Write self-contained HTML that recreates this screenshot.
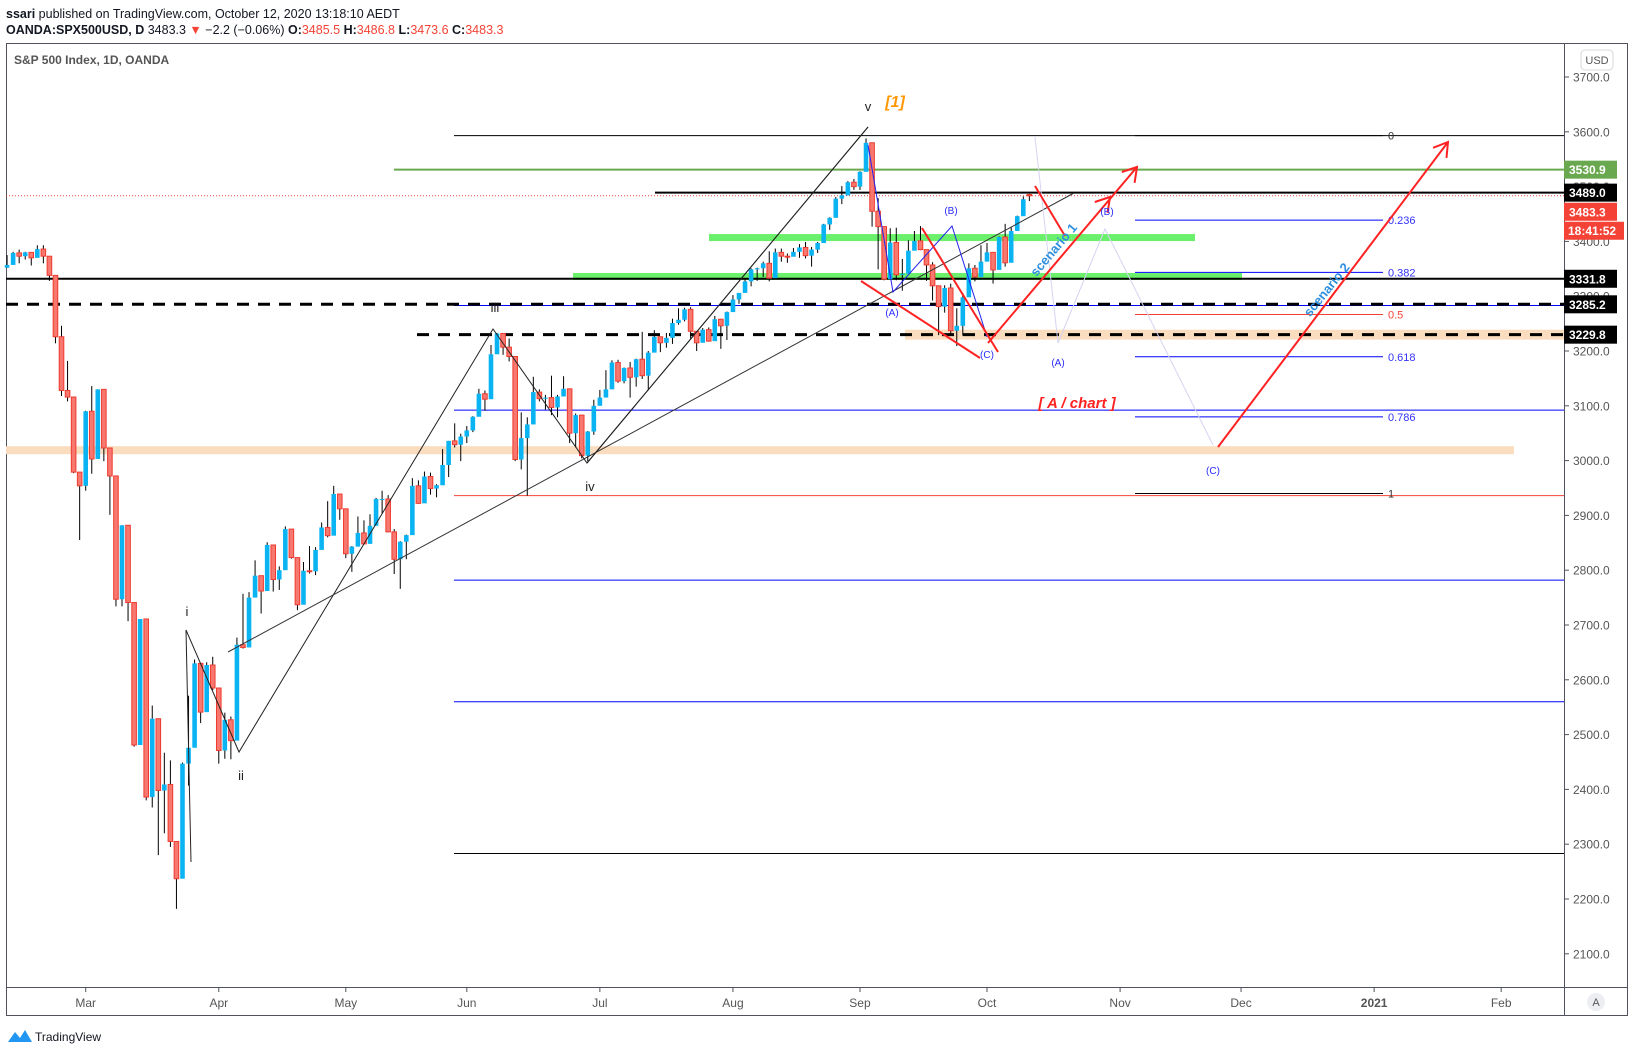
<!DOCTYPE html>
<html><head><meta charset="utf-8">
<style>
html,body{margin:0;padding:0;background:#fff;width:1635px;height:1053px;overflow:hidden}
svg{display:block}
text{font-family:"Liberation Sans",sans-serif}
</style></head>
<body>
<svg id="chart" width="1635" height="1053" viewBox="0 0 1635 1053" xmlns="http://www.w3.org/2000/svg">
<text x="6" y="18" font-size="12.5" fill="#131722"><tspan font-weight="bold">ssari</tspan> published on TradingView.com, October 12, 2020 13:18:10 AEDT</text>
<text x="6" y="34" font-size="12.5" fill="#131722"><tspan font-weight="bold">OANDA:SPX500USD, D</tspan> 3483.3 <tspan fill="#f44336">▼</tspan> −2.2 (−0.06%) <tspan font-weight="bold">O:</tspan><tspan fill="#f44336">3485.5</tspan> <tspan font-weight="bold">H:</tspan><tspan fill="#f44336">3486.8</tspan> <tspan font-weight="bold">L:</tspan><tspan fill="#f44336">3473.6</tspan> <tspan font-weight="bold">C:</tspan><tspan fill="#f44336">3483.3</tspan></text>
<rect x="6.5" y="43.5" width="1621" height="972" fill="none" stroke="#50535e" stroke-width="1"/>
<line x1="1564.5" y1="43" x2="1564.5" y2="1016" stroke="#50535e"/>
<line x1="6" y1="987.5" x2="1628" y2="987.5" stroke="#50535e"/>
<text x="14" y="64" font-size="12" font-weight="bold" fill="#555">S&amp;P 500 Index, 1D, OANDA</text>
<g id="levels"></g>
<g id="candles"></g>
<g id="annot"></g>
<g id="axis"></g>
</svg>
<script>
const dates=["Feb11","Feb12","Feb13","Feb14","Feb18","Feb19","Feb20","Feb21","Feb24","Feb25","Feb26","Feb27","Feb28","Mar2","Mar3","Mar4","Mar5","Mar6","Mar9","Mar10","Mar11","Mar12","Mar13","Mar16","Mar17","Mar18","Mar19","Mar20","Mar23","Mar24","Mar25","Mar26","Mar27","Mar30","Mar31","Apr1","Apr2","Apr3","Apr6","Apr7","Apr8","Apr9","Apr13","Apr14","Apr15","Apr16","Apr17","Apr20","Apr21","Apr22","Apr23","Apr24","Apr27","Apr28","Apr29","Apr30","May1","May4","May5","May6","May7","May8","May11","May12","May13","May14","May15","May18","May19","May20","May21","May22","May26","May27","May28","May29","Jun1","Jun2","Jun3","Jun4","Jun5","Jun8","Jun9","Jun10","Jun11","Jun12","Jun15","Jun16","Jun17","Jun18","Jun19","Jun22","Jun23","Jun24","Jun25","Jun26","Jun29","Jun30","Jul1","Jul2","Jul6","Jul7","Jul8","Jul9","Jul10","Jul13","Jul14","Jul15","Jul16","Jul17","Jul20","Jul21","Jul22","Jul23","Jul24","Jul27","Jul28","Jul29","Jul30","Jul31","Aug3","Aug4","Aug5","Aug6","Aug7","Aug10","Aug11","Aug12","Aug13","Aug14","Aug17","Aug18","Aug19","Aug20","Aug21","Aug24","Aug25","Aug26","Aug27","Aug28","Aug31","Sep1","Sep2","Sep3","Sep4","Sep8","Sep9","Sep10","Sep11","Sep14","Sep15","Sep16","Sep17","Sep18","Sep21","Sep22","Sep23","Sep24","Sep25","Sep28","Sep29","Sep30","Oct1","Oct2","Oct5","Oct6","Oct7","Oct8","Oct9","Oct12"];
const closes=[3357,3379,3373,3380,3370,3386,3373,3338,3226,3128,3116,2979,2954,3090,3003,3130,3023,2972,2747,2882,2741,2481,2711,2386,2529,2398,2409,2305,2237,2447,2476,2630,2541,2627,2585,2471,2527,2489,2664,2659,2750,2790,2762,2846,2783,2800,2875,2823,2737,2799,2798,2837,2878,2863,2939,2912,2830,2843,2868,2848,2881,2930,2930,2870,2820,2852,2864,2954,2922,2971,2949,2955,2992,3036,3029,3044,3055,3080,3122,3112,3194,3232,3207,3190,3002,3041,3066,3125,3113,3115,3097,3117,3131,3050,3083,3009,3053,3100,3115,3130,3179,3145,3169,3152,3185,3155,3197,3226,3215,3224,3251,3257,3276,3236,3215,3239,3218,3258,3246,3271,3294,3306,3327,3349,3351,3360,3333,3380,3373,3372,3381,3389,3374,3385,3397,3431,3443,3478,3484,3508,3500,3527,3580,3455,3427,3331,3398,3339,3341,3383,3401,3385,3357,3319,3281,3315,3237,3246,3298,3351,3335,3363,3380,3348,3408,3361,3419,3446,3477,3483.3];
const highs=[3375,3381,3385,3381,3375,3393,3393,3360,3259,3246,3182,3097,2959,3091,3136,3130,3083,2985,2863,2882,2825,2660,2711,2562,2553,2453,2467,2453,2300,2449,2571,2637,2616,2632,2642,2522,2540,2533,2677,2757,2760,2818,2782,2851,2802,2807,2880,2868,2785,2815,2844,2842,2887,2926,2954,2930,2870,2844,2898,2891,2902,2932,2945,2937,2875,2853,2865,2968,2964,2980,2978,2957,3021,3036,3068,3049,3063,3081,3131,3128,3211,3233,3222,3223,3123,3088,3079,3153,3130,3120,3155,3120,3154,3128,3086,3073,3054,3111,3129,3165,3183,3184,3170,3180,3186,3235,3200,3238,3220,3233,3259,3278,3279,3280,3227,3242,3243,3264,3250,3272,3302,3306,3331,3351,3352,3363,3382,3387,3387,3378,3388,3395,3399,3390,3399,3432,3444,3481,3501,3510,3514,3528,3588,3564,3479,3379,3424,3425,3368,3402,3419,3428,3375,3362,3286,3320,3323,3278,3306,3360,3357,3393,3397,3369,3409,3432,3426,3447,3482,3486.8];
const lows=[3352,3360,3360,3367,3356,3378,3360,3328,3214,3118,3108,2977,2855,2945,2976,3034,2999,2901,2734,2734,2707,2478,2492,2380,2367,2280,2320,2295,2182,2345,2407,2500,2521,2543,2581,2447,2456,2455,2558,2657,2665,2762,2721,2805,2761,2764,2842,2821,2727,2775,2794,2791,2853,2860,2891,2892,2822,2797,2852,2847,2876,2913,2903,2869,2793,2766,2820,2914,2921,2953,2938,2933,2988,2970,3024,2999,3032,3052,3098,3091,3163,3196,3193,3181,2999,2984,2936,3077,3108,3093,3083,3079,3127,3032,3024,3004,2999,3047,3101,3124,3155,3142,3141,3115,3135,3149,3128,3201,3198,3206,3213,3248,3254,3222,3200,3216,3217,3221,3204,3220,3284,3286,3318,3318,3328,3335,3327,3355,3363,3361,3378,3370,3369,3354,3379,3413,3421,3444,3468,3484,3494,3494,3535,3427,3349,3329,3365,3329,3310,3363,3389,3384,3328,3292,3229,3270,3232,3209,3228,3333,3327,3340,3364,3323,3367,3354,3385,3428,3450,3473.6];
const firstOpen=3352;
const lastOpen=3485.5;
const priceTicks=[3700,3600,3500,3400,3300,3200,3100,3000,2900,2800,2700,2600,2500,2400,2300,2200,2100];
const monthLabels=["Mar","Apr","May","Jun","Jul","Aug","Sep","Oct","Nov","Dec","2021","Feb"];
const monthBars=[13,35,56,76,98,120,141,162,184,204,226,247];
const fibRatios=[0,0.236,0.382,0.5,0.618,0.786,1];
const fibHigh=3593, fibLow=2940;
const markedPrices=[3530.9,3489.0,3483.3,3331.8,3285.2,3229.8];

const NS="http://www.w3.org/2000/svg";
const X0=7.07, BW=6.049;
const xb=i=>X0+i*BW;
const y=p=>77+(3700-p)*0.548;
function el(parent,tag,attrs,txt){const e=document.createElementNS(NS,tag);for(const k in attrs)e.setAttribute(k,attrs[k]);if(txt!==undefined)e.textContent=txt;document.getElementById(parent).appendChild(e);return e;}

// horizontal levels
const L='levels';
let e;
e=el(L,'rect',{x:6,y:y(3019)-4,width:1508,height:8,fill:'#fadcbf'});


e=el(L,'rect',{x:905,y:y(3229.8)-5,width:659,height:10,fill:'#fadcbf'});


e=el(L,'rect',{x:709,y:y(3407)-3.5,width:486,height:7,fill:'#6af06a'});


e=el(L,'rect',{x:573,y:y(3336)-3.5,width:669,height:7,fill:'#6af06a'});


function hline(x1,p,stroke,w,dash,name){const a={x1:x1,x2:1564,y1:y(p),y2:y(p),stroke:stroke,'stroke-width':w};if(dash)a['stroke-dasharray']=dash;const h=el(L,'line',a);

}
hline(454,3593,'#000',1,null,'level-3593');
hline(394,3530.9,'#6aa84f',2,null,'level-3530');
hline(655,3489.0,'#000',2,null,'level-3489');
hline(6,3483.3,'#f44336',1,'1,2','last-price-line');
hline(6,3331.8,'#000',2,null,'level-3331');
hline(454,3283,'#0000ff',1,null,'blue-level-3283');
hline(6,3285.2,'#000',3,'12,9','level-3285');
hline(417,3229.8,'#000',3,'12,9','level-3229');
hline(454,3092,'#0000ff',1,null,'blue-level-3092');
hline(454,2936,'#f44336',1,null,'red-level-2936');
hline(454,2782,'#0000ff',1,null,'blue-level-2782');
hline(454,2560,'#0000ff',1,null,'blue-level-2560');
hline(454,2283,'#000',1,null,'level-2283');

// fib
const fibColors=['#000','#0000ff','#0000ff','#f44336','#0000ff','#0000ff','#000'];
fibRatios.forEach((r,i)=>{const p=fibHigh-r*(fibHigh-fibLow);
const f=el(L,'line',{x1:1135,x2:1383,y1:y(p),y2:y(p),stroke:fibColors[i],'stroke-width':1});


const t=el(L,'text',{x:1388,y:y(p)+4,'font-size':11,fill:fibColors[i]==='#000'?'#333':(fibColors[i]==='#0000ff'?'#3333ff':'#f44336')},String(r));

});

// candles
const C='candles';
closes.forEach((c,i)=>{
 const o=i===0?firstOpen:(i===closes.length-1?lastOpen:closes[i-1]);
 const x=xb(i);const up=c>=o;
 const w=el(C,'line',{x1:x,x2:x,y1:y(highs[i]),y2:y(lows[i]),stroke:'#000','stroke-width':1});
 
 
 const top=y(Math.max(o,c)),bot=y(Math.min(o,c));
 const b=el(C,'rect',{x:x-2.3,y:top,width:4.6,height:Math.max(1,bot-top),fill:up?'#0ab4f2':'#f7786f',stroke:up?'#0ab4f2':'#ef3b30','stroke-width':up?0:1});
 
 
});

// annotations
const A='annot';
function poly(pts,stroke,w,name){const p=el(A,'polyline',{points:pts,fill:'none',stroke:stroke,'stroke-width':w});

}
poly('191,862 186,630 239,752 493,329 587,463 868,127','#222',1,'elliott-wave-path');
poly('228,652 1074,193','#333',1,'trend-channel-line');
poly('587,463 868,127','#222',1,'wave-v-line');
poly('868,145 893,292 952,226 987,337','#2222ee',1,'abc-correction-path');
poly('1035,137 1058,343 1105,229 1213,445','#d4d4f2',1,'projected-abc-path');
poly('861,281 980,358','#f22',2,'red-wedge-lower');
poly('922,228 998,352','#f22',2,'red-wedge-upper');
poly('1035,186 1065,236','#f22',2,'red-line-scenario1');
poly('988,343 1137,167','#f22',2,'scenario-1-arrow');
poly('1218,447 1448,142','#f22',2,'scenario-2-arrow');
function head(x,yy,ux,uy,name){const s=16,ca=Math.cos(0.55),sa=Math.sin(0.55);
const ax=x-s*(ux*ca-uy*sa),ay=yy-s*(uy*ca+ux*sa),bx=x-s*(ux*ca+uy*sa),by=yy-s*(uy*ca-ux*sa);
poly(ax+','+ay+' '+x+','+yy+' '+bx+','+by,'#f22',2,name);}
head(1137,167,0.646,-0.763,'arrowhead-scenario1');
head(1110,197,0.646,-0.763,'arrowhead-scenario1-b');
head(1448,142,0.602,-0.798,'arrowhead-scenario2');
function lab(x,yy,t,opt,name){const a=Object.assign({x:x,y:yy,'text-anchor':'middle','font-size':13,fill:'#222'},opt);const q=el(A,'text',a,t);

}
lab(187,616,'i',{},'wave-i-label');
lab(241,780,'ii',{},'wave-ii-label');
lab(495,312,'iii',{},'wave-iii-label');
lab(590,491,'iv',{},'wave-iv-label');
lab(868,111,'v',{},'wave-v-label');
lab(895,107,'[1]',{fill:'#ff9800','font-size':16,'font-weight':'bold','font-style':'italic'},'wave-1-label');
const bl={fill:'#2a2aff','font-size':10};
lab(892,316,'(A)',bl,'label-a');
lab(951,214,'(B)',bl,'label-b');
lab(987,358,'(C)',bl,'label-c');
lab(1058,366,'(A)',bl,'proj-label-a');
lab(1107,215,'(B)',bl,'proj-label-b');
lab(1213,474,'(C)',bl,'proj-label-c');
lab(1077,408,'[ A / chart ]',{fill:'#f22','font-size':15,'font-weight':'bold','font-style':'italic'},'a-chart-label');
let s1=el(A,'text',{x:1054,y:254,'text-anchor':'middle','font-size':13,'font-weight':'bold',fill:'#2e8fe0',transform:'rotate(-50 1054 250)'},'scenario 1');


let s2=el(A,'text',{x:1327,y:294,'text-anchor':'middle','font-size':13,'font-weight':'bold',fill:'#2e8fe0',transform:'rotate(-51 1327 290)'},'scenario 2');



// axes
const X='axis';
priceTicks.forEach(p=>{const tk=el(X,'line',{x1:1564,x2:1569,y1:y(p),y2:y(p),stroke:'#50535e'});


const t=el(X,'text',{x:1573,y:y(p)+4.5,'font-size':12,fill:'#555'},p.toFixed(1));

});
monthLabels.forEach((m,i)=>{const x=xb(monthBars[i]);
const tk=el(X,'line',{x1:x,x2:x,y1:988,y2:992,stroke:'#50535e'});


const t=el(X,'text',{x:x,y:1007,'text-anchor':'middle','font-size':12,fill:'#555','font-weight':m==='2021'?'bold':'normal'},m);

});
const boxColors=['#6aa84f','#000','#f44336','#000','#000','#000'];
markedPrices.forEach((p,i)=>{const yy=y(p)+(i===2?16:0);
const r=el(X,'rect',{x:1564,y:yy-9,width:53,height:18,fill:boxColors[i]});


const t=el(X,'text',{x:1569,y:yy+4.5,'font-size':12,'font-weight':'bold',fill:'#fff'},p.toFixed(1));

});
e=el(X,'rect',{x:1564,y:y(3483.3)+26,width:60,height:18,fill:'#f44336'});


e=el(X,'text',{x:1568,y:y(3483.3)+39,'font-size':12,'font-weight':'bold',fill:'#fff'},'18:41:52');


e=el(X,'rect',{x:1581,y:50,width:32,height:20,rx:4,fill:'#fff',stroke:'#d6d8de'});


e=el(X,'text',{x:1597,y:64,'text-anchor':'middle','font-size':11,fill:'#555'},'USD');


e=el(X,'circle',{cx:1596,cy:1002,r:9,fill:'#eceef2'});


e=el(X,'text',{x:1596,y:1006,'text-anchor':'middle','font-size':11,fill:'#555'},'A');


e=el(X,'path',{d:'M8 1042 L15 1032 L20 1038 L25 1030 L32 1042 Z',fill:'#2196f3'});


e=el(X,'text',{x:35,y:1041,'font-size':12,fill:'#131722'},'TradingView');


</script>
</body></html>
